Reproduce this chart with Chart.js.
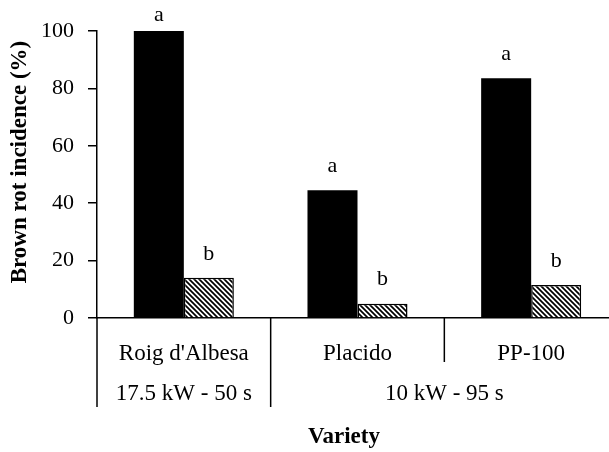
<!DOCTYPE html>
<html>
<head>
<meta charset="utf-8">
<script src="https://cdn.jsdelivr.net/npm/chart.js@4"></script>
<style>
    html, body { margin: 0; padding: 0; background: #fff; overflow: hidden; }
    #wrap { position: absolute; left: 0; top: 0; width: 622px; height: 452px; }
</style>
</head>
<body>
<div id="wrap"><canvas id="rotChart"></canvas></div>
<script>
// Brown rot incidence per variety, untreated vs treated
const varieties = ["Roig d'Albesa", 'Placido', 'PP-100'];
const treatmentGroups = ['17.5 kW - 50 s', '10 kW - 95 s'];
const groupSizes = [1, 2];
const controlValues = [100, 44.5, 83.5];
const treatedValues = [14, 5, 11.5];
const controlLetters = ['a', 'a', 'a'];
const treatedLetters = ['b', 'b', 'b'];
const yTicks = [0, 20, 40, 60, 80, 100];

const serif = "'Liberation Serif', 'Times New Roman', serif";

// diagonal hatch fill for the treated bars
function makeHatch() {
    const s = 5;
    const c = document.createElement('canvas');
    c.width = s; c.height = s;
    const g = c.getContext('2d');
    g.fillStyle = '#fff';
    g.fillRect(0, 0, s, s);
    g.strokeStyle = '#000';
    g.lineWidth = 1.7;
    g.beginPath();
    g.moveTo(-1, -1); g.lineTo(s + 1, s + 1);
    g.moveTo(-1, s - 1); g.lineTo(1, s + 1);
    g.moveTo(s - 1, -1); g.lineTo(s + 1, 1);
    g.stroke();
    return g.createPattern(c, 'repeat');
}

// letters above bars, group dividers, second label row and axis titles
const extras = {
    id: 'extras',
    afterDraw(chart) {
        const ctx = chart.ctx;
        const x = chart.scales.x;
        const area = chart.chartArea;
        ctx.save();
        ctx.fillStyle = '#000';
        ctx.textAlign = 'center';

        // significance letters
        ctx.font = '22px ' + serif;
        ctx.textBaseline = 'middle';
        [controlLetters, treatedLetters].forEach((letters, di) => {
            chart.getDatasetMeta(di).data.forEach((bar, i) => {
                const y = Math.max(bar.y - 24, area.top - 16);
                ctx.fillText(letters[i], bar.x, y);
            });
        });

        // category dividers
        const step = x.getPixelForValue(1) - x.getPixelForValue(0);
        const edge = i => x.getPixelForValue(i) - step / 2;
        const groupEdges = [0];
        groupSizes.forEach(n => groupEdges.push(groupEdges[groupEdges.length - 1] + n));
        ctx.strokeStyle = '#000';
        ctx.lineWidth = 1.5;
        for (let i = 0; i <= varieties.length; i++) {
            const long = groupEdges.includes(i);
            ctx.beginPath();
            ctx.moveTo(edge(i), area.bottom);
            ctx.lineTo(edge(i), area.bottom + (long ? 89 : 44));
            ctx.stroke();
        }

        // treatment row
        ctx.font = '23px ' + serif;
        ctx.textBaseline = 'alphabetic';
        treatmentGroups.forEach((label, g) => {
            const cx = (edge(groupEdges[g]) + edge(groupEdges[g + 1])) / 2;
            ctx.fillText(label, cx, area.bottom + 82);
        });

        // axis titles
        ctx.font = 'bold 23px ' + serif;
        ctx.textBaseline = 'middle';
        ctx.fillText('Variety', 344, 437);
        ctx.translate(20, 162);
        ctx.rotate(-Math.PI / 2);
        ctx.fillText('Brown rot incidence (%)', 0, 0);
        ctx.restore();
    }
};

const ctx = document.getElementById('rotChart').getContext('2d');
new Chart(ctx, {
    type: 'bar',
    data: {
        labels: varieties,
        datasets: [{
            label: 'Control',
            data: controlValues,
            backgroundColor: '#000',
            borderWidth: 0
        }, {
            label: 'Treated',
            data: treatedValues,
            backgroundColor: makeHatch(),
            borderColor: '#000',
            borderWidth: 1.5
        }]
    },
    options: {
        responsive: true,
        maintainAspectRatio: false,
        animation: false,
        events: [],
        layout: { padding: { left: 0, right: 4, top: 31, bottom: 0 } },
        datasets: { bar: { categoryPercentage: 0.576, barPercentage: 1 } },
        plugins: { legend: { display: false }, tooltip: { enabled: false } },
        scales: {
            x: {
                offset: true,
                grid: { display: false },
                border: { display: true, color: '#000', width: 1.5 },
                ticks: { color: '#000', font: { family: serif, size: 23 }, padding: 14 },
                afterFit: s => { s.height = 134; }
            },
            y: {
                min: 0,
                max: 100,
                afterBuildTicks: s => { s.ticks = yTicks.map(v => ({ value: v })); },
                grid: { drawOnChartArea: false, tickLength: 9, color: '#000', lineWidth: 1.5 },
                border: { display: true, color: '#000', width: 1.5 },
                ticks: { color: '#000', font: { family: serif, size: 22 }, padding: 14 },
                afterFit: s => { s.width = 97; }
            }
        }
    },
    plugins: [extras]
});
</script>
</body>
</html>
